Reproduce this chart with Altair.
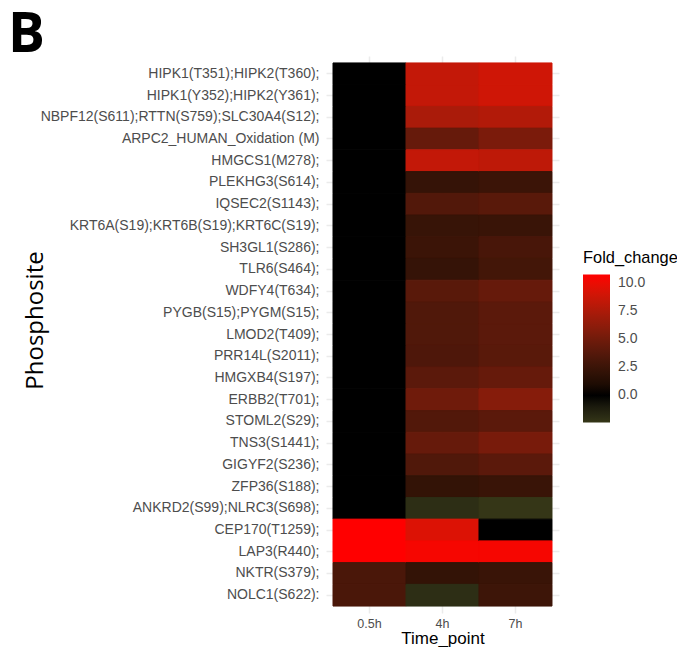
import altair as alt
import pandas as pd

sites = [
    "HIPK1(T351);HIPK2(T360);",
    "HIPK1(Y352);HIPK2(Y361);",
    "NBPF12(S611);RTTN(S759);SLC30A4(S12);",
    "ARPC2_HUMAN_Oxidation (M)",
    "HMGCS1(M278);",
    "PLEKHG3(S614);",
    "IQSEC2(S1143);",
    "KRT6A(S19);KRT6B(S19);KRT6C(S19);",
    "SH3GL1(S286);",
    "TLR6(S464);",
    "WDFY4(T634);",
    "PYGB(S15);PYGM(S15);",
    "LMOD2(T409);",
    "PRR14L(S2011);",
    "HMGXB4(S197);",
    "ERBB2(T701);",
    "STOML2(S29);",
    "TNS3(S1441);",
    "GIGYF2(S236);",
    "ZFP36(S188);",
    "ANKRD2(S99);NLRC3(S698);",
    "CEP170(T1259);",
    "LAP3(R440);",
    "NKTR(S379);",
    "NOLC1(S622):",
]
times = ["0.5h", "4h", "7h"]

fc_05h = [0, 0, 0, 0, 0, 0, 0, 0, 0, 0, 0, 0, 0, 0, 0, 0, 0, 0, 0, 0, 0,
          10.74, 10.74, 3.2, 3.2]
fc_4h = [8.4, 8.4, 7.4, 4.5, 8.4, 2.2, 3.6, 2.3, 2.5, 2.2, 3.9, 3.5, 3.5,
         3.4, 4.0, 4.9, 3.6, 4.5, 3.5, 2.1, -2.0, 9.4, 10.4, 2.1, -2.0]
fc_7h = [8.9, 8.9, 7.7, 5.4, 8.2, 2.5, 3.9, 2.4, 3.1, 2.9, 4.5, 4.0, 4.0,
         3.9, 4.5, 5.9, 4.0, 5.3, 4.0, 2.4, -2.4, 0.0, 10.4, 2.4, 2.6]

panel_label = ["B"]

rows = []
for t, vals in zip(times, [fc_05h, fc_4h, fc_7h]):
    for s, v in zip(sites, vals):
        rows.append({"Phosphosite": s, "Time_point": t, "Fold_change": v})
df = pd.DataFrame(rows)

label_font = "Liberation Sans"

color_range = ["#353617", "#000000", "#ff0000"]

heat = alt.Chart(df).transform_calculate(
    edge="datum.Fold_change"
).mark_rect(strokeWidth=1).encode(
    x=alt.X(
        "Time_point:N",
        sort=times,
        scale=alt.Scale(paddingInner=0, paddingOuter=0.096),
        axis=alt.Axis(
            title="Time_point",
            labelAngle=0,
            labelFont=label_font,
            labelFontSize=12.5,
            labelColor="#4d4d4d",
            labelPadding=4,
            labelBaseline="top",
            ticks=False,
            tickSize=0,
            domain=False,
            grid=True,
            gridColor="#ebebeb",
            gridWidth=1.5,
            bandPosition=0.5,
            zindex=0,
            titleFont=label_font,
            titleFontSize=17,
            titleFontWeight="normal",
            titleColor="black",
            titleBaseline="alphabetic",
            titleY=30,
        ),
    ),
    y=alt.Y(
        "Phosphosite:N",
        sort=sites,
        scale=alt.Scale(paddingInner=0, paddingOuter=0.32),
        axis=alt.Axis(
            title="Phosphosite",
            labelFont=label_font,
            labelFontSize=14,
            labelColor="#4d4d4d",
            labelPadding=7,
            labelLimit=400,
            ticks=False,
            tickSize=0,
            domain=False,
            grid=True,
            gridColor="#ebebeb",
            gridWidth=1.5,
            bandPosition=0.5,
            zindex=0,
            titleFont="Open Sans",
            titleFontSize=24,
            titleFontWeight="normal",
            titleColor="black",
            titleAngle=270,
            titleBaseline="alphabetic",
            titleAlign="center",
            titleX=-284,
            titleY=264,
        ),
    ),
    color=alt.Color(
        "Fold_change:Q",
        scale=alt.Scale(domainMid=0, range=color_range, interpolate="lab"),
        legend=alt.Legend(
            title="Fold_change",
            orient="none",
            legendX=257,
            legendY=194,
            padding=0,
            direction="vertical",
            gradientLength=148,
            gradientThickness=27,
            gradientStrokeWidth=0,
            values=[0, 2.5, 5, 7.5, 10],
            format=".1f",
            labelFont=label_font,
            labelFontSize=14,
            labelColor="#4d4d4d",
            labelOffset=8,
            titleFont=label_font,
            titleFontSize=16.4,
            titleFontWeight="normal",
            titleColor="black",
            titlePadding=8,
            titleLimit=200,
        ),
    ),
    stroke=alt.Stroke(
        "edge:Q",
        scale=alt.Scale(domainMid=0, range=color_range, interpolate="lab"),
        legend=None,
    ),
)

label = alt.Chart(pd.DataFrame({"panel": panel_label})).mark_text(
    font="Open Sans",
    fontSize=55,
    fontWeight="bold",
    color="black",
    align="left",
    baseline="alphabetic",
).encode(
    text="panel:N",
    x=alt.value(-318),
    y=alt.value(-4),
)

chart = alt.layer(heat, label).properties(
    width=233,
    height=557,
    padding={"left": 318, "top": 48, "right": 118, "bottom": 34},
    autosize=alt.AutoSizeParams(type="none"),
).resolve_scale(
    color="independent", stroke="independent"
).configure_view(stroke=None)

chart.save("out.html", embed_options={"renderer": "svg", "actions": False})
